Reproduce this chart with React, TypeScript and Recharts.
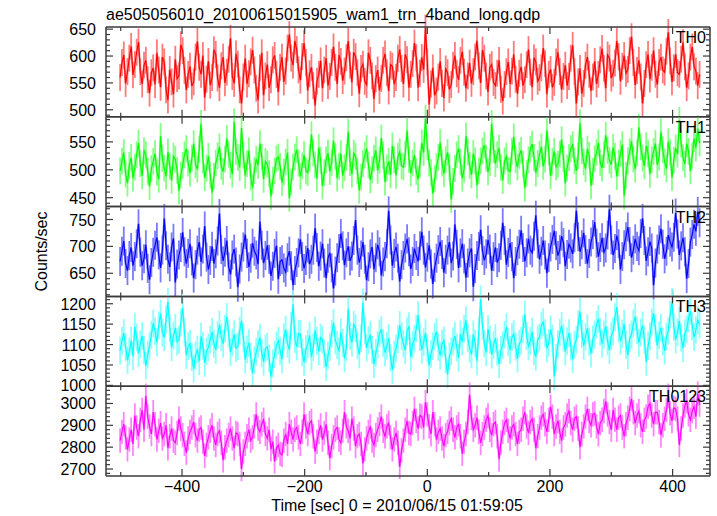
import { LineChart, Line, XAxis, YAxis, ErrorBar } from 'recharts'

// light curve bins: one every 3 s starting at -501 s
const T_START = -501
const T_STEP = 3

const th0 = [
  560, 588, 602, 549, 571, 596, 618, 565, 584, 607, 626, 571, 548, 583, 592, 556, 531, 569, 578, 547,
  606, 574, 542, 598, 589, 537, 518, 575, 552, 529, 594, 558, 563, 621, 610, 573, 537, 566, 581, 544,
  552, 598, 627, 579, 566, 601, 523, 557, 590, 546, 560, 612, 603, 559, 541, 582, 598, 550, 570, 594,
  633, 562, 549, 604, 585, 537, 512, 561, 596, 548, 567, 589, 611, 574, 540, 518, 578, 606, 527, 563,
  584, 541, 556, 593, 601, 566, 533, 579, 598, 552, 572, 615, 640, 596, 583, 628, 612, 574, 555, 599,
  624, 588, 536, 567, 579, 545, 508, 553, 566, 591, 540, 574, 596, 545, 562, 588, 617, 579, 548, 602,
  590, 554, 572, 597, 628, 583, 551, 607, 599, 569, 530, 577, 585, 553, 547, 606, 592, 563, 520, 558,
  574, 536, 558, 592, 604, 569, 535, 584, 581, 548, 560, 596, 612, 577, 548, 603, 593, 541, 566, 586,
  624, 597, 541, 568, 597, 575, 652, 589, 510, 548, 578, 527, 535, 561, 590, 549, 522, 576, 569, 538,
  547, 583, 601, 567, 556, 592, 608, 570, 540, 563, 587, 549, 571, 598, 629, 582, 550, 611, 596, 563,
  533, 579, 584, 551, 545, 568, 592, 538, 516, 547, 571, 589, 548, 572, 603, 557, 530, 568, 580, 545,
  556, 584, 612, 570, 542, 597, 589, 553, 560, 578, 615, 586, 529, 566, 575, 542, 551, 589, 607, 571,
  538, 562, 583, 545, 562, 596, 620, 571, 512, 552, 577, 530, 549, 583, 598, 566, 535, 561, 590, 548,
  566, 593, 614, 577, 540, 602, 596, 559, 568, 587, 628, 599, 553, 581, 601, 568, 575, 610, 636, 588,
  546, 573, 592, 561, 512, 549, 584, 603, 557, 579, 610, 566, 547, 588, 598, 574, 570, 609, 644, 591,
  552, 578, 603, 569, 566, 594, 625, 580, 541, 563, 598, 617, 580, 572, 545, 566,
]

const th1 = [
  498, 515, 531, 492, 476, 508, 522, 485, 505, 527, 548, 511, 489, 534, 527, 497, 470, 502, 515, 529,
  496, 483, 560, 520, 503, 488, 532, 506, 481, 524, 519, 499, 462, 491, 508, 527, 538, 512, 494, 521,
  547, 509, 501, 537, 583, 518, 486, 503, 524, 491, 459, 488, 512, 525, 541, 506, 497, 519, 556, 528,
  508, 492, 586, 533, 522, 504, 575, 526, 490, 511, 534, 487, 468, 499, 519, 508, 547, 523, 483, 515,
  510, 493, 452, 481, 498, 520, 523, 506, 477, 496, 514, 531, 449, 478, 505, 523, 536, 512, 488, 507,
  527, 498, 495, 521, 563, 530, 509, 484, 540, 517, 471, 495, 518, 530, 497, 513, 552, 524, 485, 506,
  529, 490, 504, 522, 568, 513, 492, 530, 524, 498, 463, 487, 511, 526, 538, 509, 482, 500, 521, 535,
  499, 517, 557, 526, 478, 503, 515, 491, 543, 518, 490, 524, 532, 507, 505, 528, 571, 519, 494, 512,
  526, 497, 483, 510, 548, 531, 592, 541, 512, 495, 457, 484, 506, 522, 549, 512, 493, 518, 531, 505,
  447, 479, 502, 527, 538, 514, 485, 501, 561, 532, 508, 491, 529, 516, 472, 498, 516, 534, 544, 521,
  496, 513, 583, 536, 511, 527, 539, 504, 481, 516, 524, 499, 497, 533, 559, 518, 505, 526, 535, 510,
  467, 494, 518, 537, 546, 522, 494, 511, 528, 541, 506, 519, 571, 532, 489, 515, 533, 505, 510, 528,
  554, 520, 476, 503, 522, 538, 545, 516, 498, 525, 584, 534, 514, 502, 537, 526, 471, 497, 520, 531,
  548, 513, 503, 527, 562, 535, 517, 509, 540, 524, 488, 512, 529, 545, 453, 490, 516, 532, 551, 519,
  501, 530, 576, 541, 521, 507, 543, 529, 492, 518, 533, 547, 509, 523, 568, 536, 514, 502, 550, 531,
  486, 517, 539, 528, 589, 546, 522, 510, 547, 533, 498, 525, 556, 539, 574, 548,
]

const th2 = [
  672, 691, 710, 668, 655, 683, 698, 664, 681, 705, 742, 689, 664, 677, 703, 659, 638, 670, 689, 702,
  717, 684, 660, 693, 752, 701, 676, 662, 699, 715, 633, 667, 684, 698, 726, 690, 668, 687, 705, 673,
  641, 666, 693, 708, 671, 695, 738, 680, 657, 674, 700, 668, 686, 710, 761, 694, 673, 689, 711, 662,
  648, 684, 695, 671, 624, 658, 680, 699, 722, 687, 662, 678, 706, 691, 684, 667, 746, 702, 669, 683,
  702, 676, 645, 663, 687, 701, 639, 672, 675, 660, 652, 679, 691, 664, 628, 655, 670, 688, 713, 681,
  659, 674, 697, 667, 676, 693, 734, 698, 663, 682, 705, 669, 641, 678, 688, 660, 622, 654, 679, 696,
  724, 701, 665, 688, 700, 673, 682, 711, 749, 693, 670, 684, 708, 676, 637, 662, 686, 699, 657, 679,
  703, 690, 646, 671, 681, 705, 766, 712, 664, 687, 699, 678, 635, 666, 683, 697, 714, 690, 658, 672,
  696, 683, 672, 701, 727, 693, 661, 680, 702, 667, 630, 661, 678, 694, 709, 685, 651, 676, 693, 708,
  669, 682, 741, 704, 660, 688, 705, 677, 642, 669, 688, 696, 625, 659, 683, 700, 731, 692, 674, 686,
  712, 695, 655, 681, 698, 670, 679, 702, 744, 711, 666, 689, 706, 681, 641, 672, 692, 704, 730, 698,
  672, 688, 714, 693, 688, 719, 758, 705, 676, 691, 711, 684, 650, 679, 699, 713, 729, 701, 683, 694,
  719, 707, 663, 685, 704, 697, 686, 716, 766, 718, 690, 703, 725, 694, 668, 687, 708, 722, 745, 706,
  681, 698, 716, 689, 697, 721, 769, 712, 684, 696, 720, 705, 657, 681, 703, 718, 736, 709, 679, 693,
  714, 700, 692, 724, 752, 711, 673, 690, 709, 697, 628, 669, 695, 712, 733, 704, 677, 691, 721, 708,
  699, 717, 762, 723, 684, 701, 716, 690, 640, 668, 708, 722, 741, 728, 765, 744,
]

const th3 = [
  1085, 1109, 1128, 1094, 1062, 1083, 1110, 1071, 1143, 1118, 1079, 1101, 1121, 1086, 1048, 1075, 1097, 1124, 1152, 1133,
  1105, 1147, 1176, 1129, 1118, 1162, 1205, 1140, 1093, 1122, 1141, 1107, 1112, 1154, 1190, 1131, 1074, 1096, 1102, 1069,
  1041, 1073, 1088, 1059, 1120, 1097, 1055, 1084, 1093, 1112, 1131, 1102, 1087, 1123, 1149, 1118, 1102, 1139, 1168, 1127,
  1081, 1105, 1125, 1091, 1096, 1134, 1158, 1117, 1063, 1088, 1104, 1071, 1030, 1062, 1082, 1101, 1117, 1079, 1058, 1090,
  1095, 1066, 1021, 1054, 1076, 1098, 1109, 1085, 1064, 1118, 1137, 1102, 1088, 1146, 1199, 1113, 1095, 1127, 1126, 1081,
  1057, 1089, 1101, 1122, 1070, 1094, 1135, 1109, 1083, 1117, 1112, 1078, 1045, 1073, 1094, 1126, 1153, 1110, 1098, 1083,
  1130, 1104, 1066, 1093, 1187, 1121, 1105, 1149, 1140, 1098, 1076, 1115, 1203, 1134, 1092, 1111, 1124, 1087, 1052, 1080,
  1099, 1127, 1136, 1104, 1080, 1097, 1116, 1068, 1038, 1075, 1090, 1113, 1148, 1121, 1102, 1086, 1133, 1145, 1069, 1100,
  1114, 1139, 1172, 1118, 1087, 1106, 1128, 1091, 1049, 1077, 1096, 1119, 1131, 1094, 1073, 1102, 1110, 1064, 1027, 1071,
  1084, 1108, 1121, 1093, 1068, 1125, 1107, 1139, 1160, 1115, 1090, 1076, 1125, 1103, 1059, 1132, 1211, 1146, 1103, 1081,
  1138, 1112, 1075, 1099, 1116, 1083, 1052, 1087, 1099, 1124, 1143, 1106, 1087, 1118, 1126, 1095, 1065, 1102, 1109, 1137,
  1174, 1121, 1096, 1109, 1132, 1084, 1070, 1113, 1118, 1147, 1155, 1128, 1091, 1104, 1137, 1115, 1022, 1068, 1101, 1129,
  1146, 1117, 1083, 1108, 1128, 1095, 1064, 1099, 1112, 1150, 1181, 1126, 1097, 1119, 1140, 1106, 1078, 1113, 1124, 1149,
  1163, 1131, 1102, 1125, 1145, 1108, 1086, 1121, 1132, 1167, 1192, 1138, 1109, 1127, 1151, 1099, 1074, 1116, 1125, 1152,
  1168, 1135, 1104, 1129, 1147, 1112, 1058, 1097, 1120, 1154, 1177, 1139, 1098, 1123, 1141, 1108, 1085, 1119, 1134, 1173,
  1205, 1143, 1112, 1130, 1158, 1117, 1091, 1128, 1137, 1164, 1182, 1145, 1118, 1136, 1160, 1149,
]

const th0123 = [
  2830, 2870, 2905, 2845, 2790, 2835, 2880, 2815, 2945, 2890, 2850, 2925, 2970, 2880, 3035, 2940, 2895, 2860, 2960, 2905,
  2835, 2875, 2910, 2840, 2860, 2900, 2795, 2850, 2885, 2830, 2820, 2865, 2930, 2885, 2855, 2815, 2775, 2840, 2870, 2890,
  2915, 2855, 2830, 2880, 2890, 2825, 2760, 2810, 2845, 2875, 2900, 2840, 2810, 2860, 2875, 2820, 2740, 2800, 2830, 2855,
  2885, 2840, 2795, 2865, 2860, 2815, 2700, 2780, 2815, 2850, 2880, 2830, 2845, 2895, 2950, 2885, 2870, 2905, 2925, 2860,
  2840, 2880, 2790, 2825, 2735, 2795, 2810, 2770, 2765, 2830, 2860, 2815, 2905, 2870, 2835, 2880, 2890, 2845, 2815, 2870,
  2950, 2895, 2860, 2910, 2920, 2850, 2780, 2825, 2870, 2900, 2835, 2865, 2905, 2820, 2750, 2805, 2845, 2880, 2890, 2835,
  2820, 2875, 2960, 2895, 2875, 2840, 2930, 2885, 2805, 2850, 2860, 2815, 2725, 2790, 2840, 2870, 2895, 2830, 2810, 2855,
  2880, 2905, 2940, 2875, 2850, 2895, 2910, 2845, 2790, 2835, 2865, 2820, 2710, 2785, 2830, 2880, 2920, 2865, 2860, 2910,
  2975, 2920, 2885, 2945, 2940, 2890, 3005, 2950, 2895, 2860, 2960, 2905, 2835, 2870, 2885, 2840, 2805, 2855, 2870, 2910,
  2930, 2880, 2845, 2890, 2905, 2850, 2770, 2825, 2860, 2915, 3040, 2935, 2880, 2900, 2935, 2870, 2820, 2860, 2890, 2925,
  2945, 2880, 2855, 2905, 2915, 2850, 2745, 2820, 2870, 2910, 2925, 2875, 2840, 2890, 2905, 2860, 2815, 2870, 2880, 2930,
  2960, 2895, 2865, 2915, 2930, 2880, 2795, 2850, 2890, 2935, 2950, 2905, 2870, 2925, 2985, 2940, 2860, 2895, 2920, 2870,
  2830, 2890, 2905, 2945, 2965, 2910, 2880, 2930, 2940, 2885, 2800, 2860, 2895, 2940, 2975, 2920, 2900, 2950, 2955, 2895,
  2860, 2910, 2925, 2965, 3010, 2950, 2915, 2880, 2970, 2925, 2880, 2935, 2945, 2890, 2850, 2905, 2935, 2975, 3020, 2960,
  2910, 2945, 2965, 2900, 2870, 2925, 2940, 2985, 3000, 2945, 2905, 2960, 2960, 2915, 2855, 2900, 2930, 2970, 3035, 2955,
  2920, 2980, 2975, 2930, 2810, 2885, 2945, 2990, 3010, 2950, 2925, 2965, 2985, 2940, 3045, 2995,
]

// typical 1-sigma error bar half-length of each band (counts/sec)
const ERRORS = [25, 24, 27, 34, 56]

const X_TICKS = [-500, -400, -300, -200, -100, 0, 100, 200, 300, 400]
const X_LABELS = [-400, -200, 0, 200, 400]

const TITLE = 'ae505056010_20100615015905_wam1_trn_4band_long.qdp'
const X_TITLE = 'Time [sec] 0 = 2010/06/15 01:59:05'
const Y_TITLE = 'Counts/sec'

const panels = [
  { name: 'TH0', values: th0, color: '#ff0000', light: '#ff7a7a', domain: [487, 654], labels: [500, 550, 600, 650], step: 10 },
  { name: 'TH1', values: th1, color: '#00ff00', light: '#85ff85', domain: [434, 595], labels: [450, 500, 550], step: 10 },
  { name: 'TH2', values: th2, color: '#0000ff', light: '#7a7aff', domain: [607, 774], labels: [650, 700, 750], step: 10 },
  { name: 'TH3', values: th3, color: '#00ffff', light: '#8cffff', domain: [998, 1218], labels: [1000, 1050, 1100, 1150, 1200], step: 10 },
  { name: 'TH0123', values: th0123, color: '#ff00ff', light: '#ff85ff', domain: [2668, 3079], labels: [2700, 2800, 2900, 3000], step: 20 },
]

const W = 717
const H = 516
const LEFT = 106
const RIGHT = 710
const TOP = 27
const BOTTOM = 476
const PANEL_H = (BOTTOM - TOP) / panels.length
const FONT = '"Liberation Sans", Arial, Helvetica, sans-serif'
const FRAME = '#3a3a3a'

const fmt = (v: number) => (v < 0 ? '\u2212' + Math.abs(v) : String(v))

function XTick(props: any) {
  const { x, y, payload, side, showLabel } = props
  const v = payload.value as number
  const major = v % 200 === 0
  const len = major ? 7 : 4
  const dir = side === 'bottom' ? -1 : 1
  return (
    <g>
      <line x1={x} x2={x} y1={y} y2={y + dir * len} stroke={FRAME} strokeWidth={1.2} />
      {showLabel && X_LABELS.includes(v) && (
        <text x={x} y={y + 16} textAnchor="middle" fontSize={16} fontFamily={FONT} fill="#000">
          {fmt(v)}
        </text>
      )}
    </g>
  )
}

function YTick(props: any) {
  const { x, y, payload, side, labels } = props
  const v = payload.value as number
  const major = labels.includes(v)
  const len = major ? 7 : 4
  const dir = side === 'left' ? 1 : -1
  return (
    <g>
      <line x1={x} x2={x + dir * len} y1={y} y2={y} stroke={FRAME} strokeWidth={1.2} />
      {side === 'left' && major && (
        <text x={x - 10} y={y + 6} textAnchor="end" fontSize={16} fontFamily={FONT} fill="#000">
          {v}
        </text>
      )}
    </g>
  )
}

function Panel({ idx }: { idx: number }) {
  const p = panels[idx]
  const data = p.values.map((v, i) => ({ t: T_START + i * T_STEP, v, e: ERRORS[idx] }))
  const yTicks: number[] = []
  for (let v = Math.ceil(p.domain[0] / p.step) * p.step; v <= p.domain[1]; v += p.step) yTicks.push(v)
  const top = TOP + idx * PANEL_H
  const bottom = H - (top + PANEL_H)
  const isLast = idx === panels.length - 1
  // axes take 1px each, so margins are reduced by 1 to keep the plot box in place
  return (
    <div style={{ position: 'absolute', left: 0, top: 0 }}>
      <LineChart
        width={W}
        height={H}
        data={data}
        margin={{ top: top - 1, bottom: bottom - 1, left: LEFT - 1, right: W - RIGHT - 1 }}
      >
        <XAxis
          dataKey="t"
          type="number"
          domain={[-524, 461]}
          allowDataOverflow
          ticks={X_TICKS}
          interval={0}
          height={1}
          tickSize={0}
          tickMargin={0}
          tickLine={false}
          axisLine={{ stroke: FRAME, strokeWidth: 1.5 }}
          tick={(tp: any) => <XTick {...tp} side="bottom" showLabel={isLast} />}
        />
        <XAxis
          xAxisId="top"
          orientation="top"
          dataKey="t"
          type="number"
          domain={[-524, 461]}
          allowDataOverflow
          ticks={X_TICKS}
          interval={0}
          height={1}
          tickSize={0}
          tickMargin={0}
          tickLine={false}
          axisLine={{ stroke: FRAME, strokeWidth: 1.5 }}
          tick={(tp: any) => <XTick {...tp} side="top" />}
        />
        <YAxis
          type="number"
          domain={p.domain}
          allowDataOverflow
          ticks={yTicks}
          interval={0}
          width={1}
          tickSize={0}
          tickMargin={0}
          tickLine={false}
          axisLine={{ stroke: FRAME, strokeWidth: 1.5 }}
          tick={(tp: any) => <YTick {...tp} side="left" labels={p.labels} />}
        />
        <YAxis
          yAxisId="r"
          orientation="right"
          type="number"
          domain={p.domain}
          allowDataOverflow
          ticks={yTicks}
          interval={0}
          width={1}
          tickSize={0}
          tickMargin={0}
          tickLine={false}
          axisLine={{ stroke: FRAME, strokeWidth: 1.5 }}
          tick={(tp: any) => <YTick {...tp} side="right" labels={p.labels} />}
        />
        <Line
          dataKey="v"
          type="linear"
          stroke={p.light}
          strokeWidth={2}
          dot={false}
          isAnimationActive={false}
        >
          <ErrorBar dataKey="e" direction="y" width={0} stroke={p.light} strokeWidth={1.8} />
        </Line>
        <Line
          dataKey="v"
          type="linear"
          stroke={p.color}
          strokeWidth={1.1}
          dot={false}
          isAnimationActive={false}
        />
      </LineChart>
    </div>
  )
}

export default function App() {
  return (
    <div style={{ position: 'absolute', left: 0, top: 0, width: W, height: H, background: '#fff', fontFamily: FONT }}>
      {panels.map((p, i) => (
        <Panel key={p.name} idx={i} />
      ))}
      <svg width={W} height={H} style={{ position: 'absolute', left: 0, top: 0, pointerEvents: 'none' }}>
        <text x={LEFT} y={20} fontSize={16} fontFamily={FONT} fill="#000">
          {TITLE}
        </text>
        {panels.map((p, i) => (
          <text key={p.name} x={706} y={TOP + i * PANEL_H + 16} textAnchor="end" fontSize={16} fontFamily={FONT} fill="#000">
            {p.name}
          </text>
        ))}
        <text x={397} y={511} textAnchor="middle" fontSize={16} fontFamily={FONT} fill="#000">
          {X_TITLE}
        </text>
        <text
          transform={`translate(47, ${(TOP + BOTTOM) / 2}) rotate(-90)`}
          textAnchor="middle"
          fontSize={16}
          fontFamily={FONT}
          fill="#000"
        >
          {Y_TITLE}
        </text>
      </svg>
    </div>
  )
}
